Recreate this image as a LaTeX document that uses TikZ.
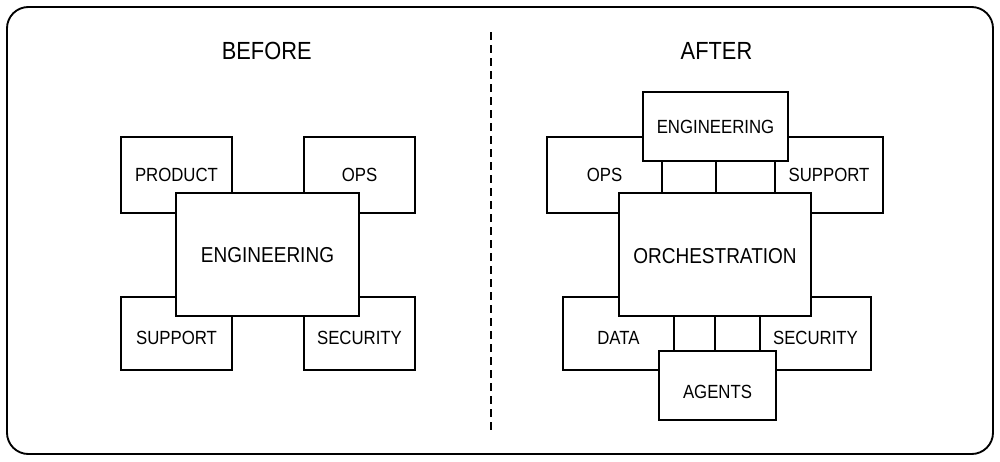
\documentclass[tikz,border=0pt]{standalone}
\usepackage{fontspec}
\setmainfont{Liberation Sans}[FakeStretch=0.88]
\usetikzlibrary{calc}
\begin{document}
\begin{tikzpicture}[x=0.75pt,y=-0.75pt,
  box/.style={draw=black,fill=white,line width=1.5pt,inner sep=0pt},
  lbl/.style={inner sep=0pt,font=\fontsize{14.3}{16}\selectfont,text=black},
  biglbl/.style={inner sep=0pt,font=\fontsize{16.2}{18}\selectfont,text=black},
  ttl/.style={inner sep=0pt,font=\fontsize{18.6}{21}\selectfont,text=black},
  conn/.style={draw=black,line width=1.5pt},
  divider/.style={draw=black,line width=1.5pt,dash pattern=on 6pt off 3.75pt}]
\useasboundingbox (0,0) rectangle (1000,461);
% frame
\draw[line width=1.4pt,rounded corners=16pt] (7,7) rectangle (993,454);
% divider
\coordinate (dtop) at (491,32);
\coordinate (dbot) at (491,433);
\draw[divider] (dtop) -- (dbot);
% titles
\node[ttl] (tbefore) at (266.7,51) {BEFORE};
\node[ttl] (tafter) at (716.5,51) {AFTER};
% ---------- BEFORE ----------
\node[box,minimum width=111*0.75pt,minimum height=76*0.75pt] (lprod) at (176.5,175) {};
\node[box,minimum width=111*0.75pt,minimum height=76*0.75pt] (lops) at (359.5,175) {};
\node[box,minimum width=111*0.75pt,minimum height=73*0.75pt] (lsup) at (176.5,333.5) {};
\node[box,minimum width=111*0.75pt,minimum height=73*0.75pt] (lsec) at (359.5,333.5) {};
\node[box,minimum width=183*0.75pt,minimum height=123*0.75pt] (leng) at (267.5,254.5) {};
\node[lbl] (tlprod) at (lprod.center) {PRODUCT};
\node[lbl] (tlops) at (lops.center) {OPS};
\node[lbl] (tlsup) at ($(lsup.center)+(0,4.5)$) {SUPPORT};
\node[lbl] (tlsec) at ($(lsec.center)+(0,4.5)$) {SECURITY};
\node[biglbl] (tleng) at ($(leng.center)+(0,1)$) {ENGINEERING};
% ---------- AFTER ----------
\node[box,minimum width=115*0.75pt,minimum height=76*0.75pt] (rops) at (604.5,175) {};
\node[box,minimum width=108*0.75pt,minimum height=76*0.75pt] (rsup) at (829,175) {};
\node[box,minimum width=111*0.75pt,minimum height=73*0.75pt] (rdata) at (618.5,333.5) {};
\node[box,minimum width=111*0.75pt,minimum height=73*0.75pt] (rsec) at (815.5,333.5) {};
\node[box,minimum width=145*0.75pt,minimum height=69*0.75pt] (reng) at (715.5,126.5) {};
\node[box,minimum width=192*0.75pt,minimum height=123*0.75pt] (rorch) at (715,254.5) {};
\node[box,minimum width=117*0.75pt,minimum height=69*0.75pt] (ragents) at (717.5,385.5) {};
\draw[conn] (reng.south) -- (reng.south |- rorch.north);
\draw[conn] (rorch.south) -- (rorch.south |- ragents.north);
\node[lbl] (trops) at (rops.center) {OPS};
\node[lbl] (trsup) at (rsup.center) {SUPPORT};
\node[lbl] (treng) at (reng.center) {ENGINEERING};
\node[biglbl] (trorch) at ($(rorch.center)+(0,1.5)$) {ORCHESTRATION};
\node[lbl] (trdata) at ($(rdata.center)+(0,4.5)$) {DATA};
\node[lbl] (trsec) at ($(rsec.center)+(0,4.5)$) {SECURITY};
\node[lbl] (tragents) at ($(ragents.center)+(0,6)$) {AGENTS};
\end{tikzpicture}
\end{document}
